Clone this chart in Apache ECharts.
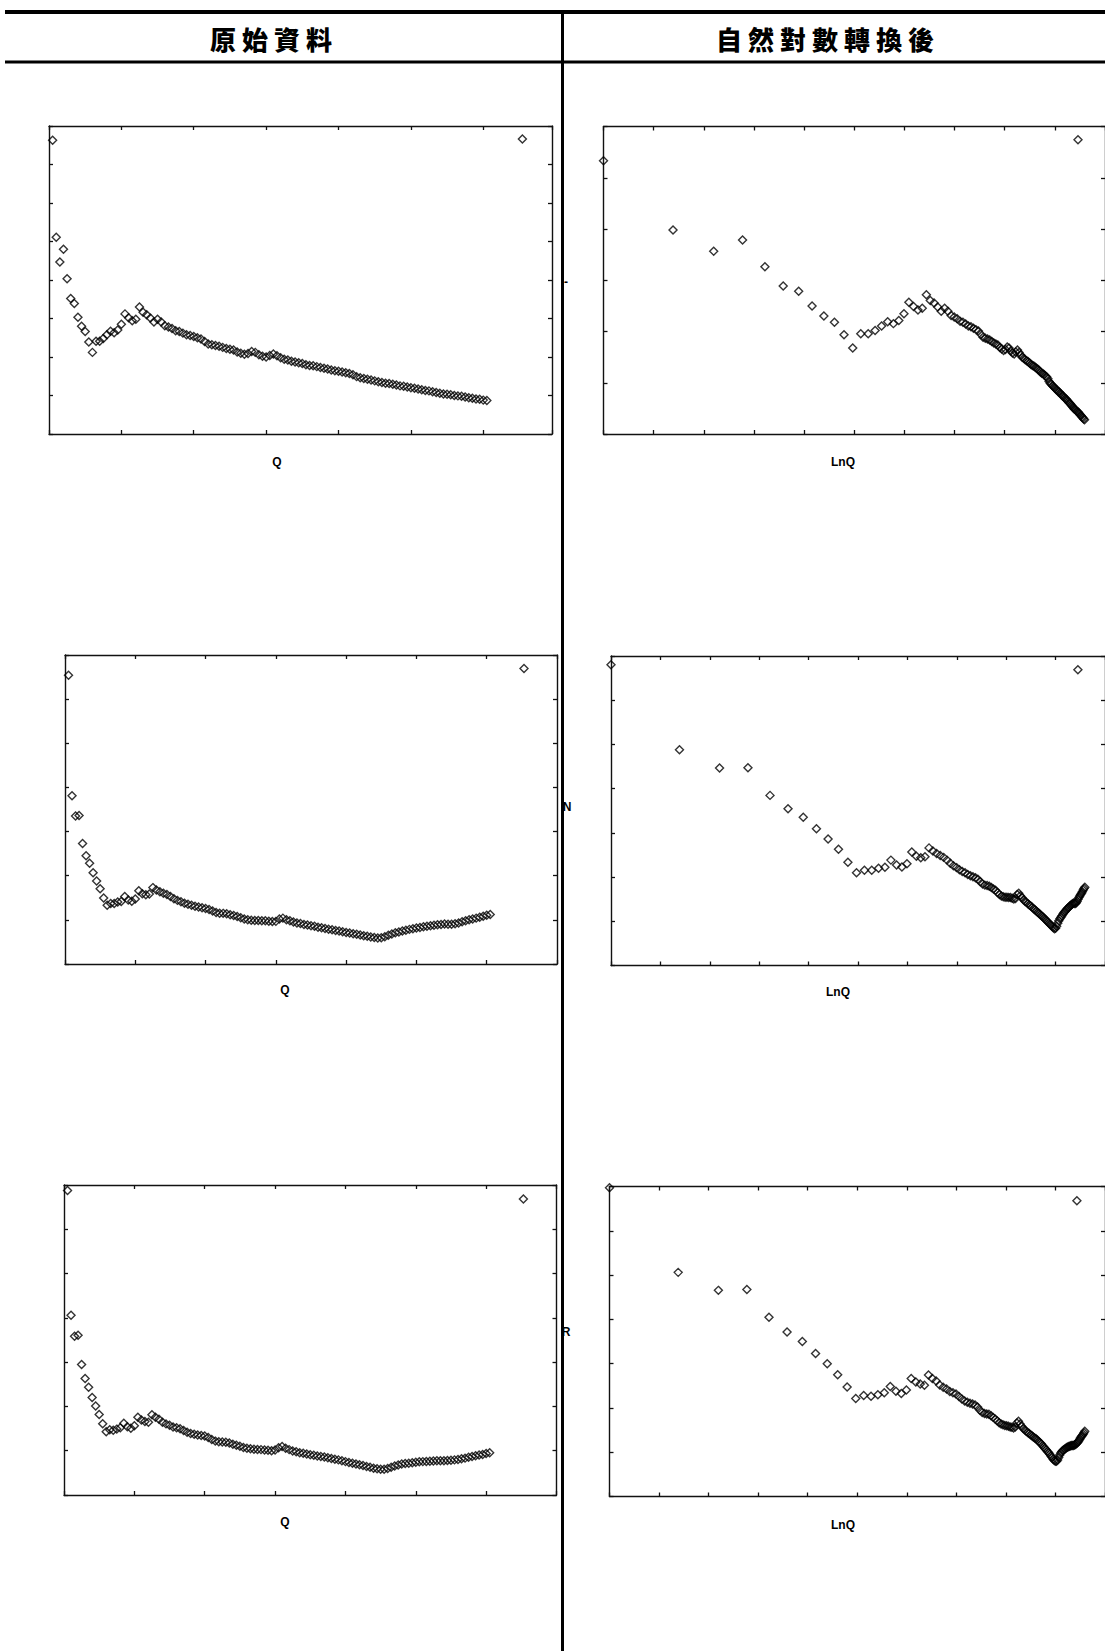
<!DOCTYPE html>
<html>
<head>
<meta charset="utf-8">
<title>原始資料 / 自然對數轉換後</title>
<script src="https://cdn.jsdelivr.net/npm/echarts@6/dist/echarts.min.js"></script>
<style>
html,body{margin:0;padding:0;background:#fff;}
#page{position:relative;width:1105px;height:1651px;overflow:hidden;}
#chart{position:absolute;left:0;top:0;width:1105px;height:1651px;}
.hd{position:absolute;top:22px;height:34px;line-height:34px;font-family:"Noto Sans CJK TC","Noto Sans CJK SC",sans-serif;font-weight:900;font-size:26px;color:#000;white-space:nowrap;transform:translateX(-50%);}
</style>
</head>
<body>
<div id="page">
  <div id="chart"></div>
  <div class="hd" style="left:274px;letter-spacing:6px">原始資料</div>
  <div class="hd" style="left:828px;letter-spacing:6px">自然對數轉換後</div>
</div>
<script>
// ---- data ----
// Q : observation index on the horizontal axis (1 ... 121)
const Q = [1,2,3,4,5,6,7,8,9,10,11,12,13,14,15,16,17,18,19,20,
  21,22,23,24,25,26,27,28,29,30,31,32,33,34,35,36,37,38,39,40,
  41,42,43,44,45,46,47,48,49,50,51,52,53,54,55,56,57,58,59,60,
  61,62,63,64,65,66,67,68,69,70,71,72,73,74,75,76,77,78,79,80,
  81,82,83,84,85,86,87,88,89,90,91,92,93,94,95,96,97,98,99,100,
  101,102,103,104,105,106,107,108,109,110,111,112,113,114,115,116,117,118,119,120,121];

// first row variable (its axis name is cut off in the scan)
const yTop = [106.3,81.1,74.7,78.0,70.3,65.2,63.9,60.3,58.0,56.6,53.9,51.2,54.1,54.1,54.8,55.8,56.7,56.3,57.0,58.5,
  61.2,60.2,59.4,59.8,63.0,61.6,61.0,60.1,59.1,59.8,59.1,58.1,57.8,57.4,56.8,56.6,56.2,55.8,55.6,55.3,
  55.0,54.7,54.0,53.4,53.2,53.0,52.8,52.5,52.2,52.0,51.8,51.3,51.0,50.7,50.9,51.4,51.2,50.6,50.2,50.0,
  50.4,50.8,50.3,49.8,49.4,49.2,48.9,48.7,48.5,48.3,48.0,47.8,47.7,47.5,47.3,47.1,46.9,46.6,46.4,46.3,
  46.1,45.9,45.7,45.4,44.9,44.6,44.4,44.2,44.0,43.8,43.6,43.4,43.2,43.1,42.9,42.7,42.5,42.4,42.2,42.0,
  41.9,41.7,41.5,41.3,41.2,41.0,40.8,40.6,40.4,40.3,40.2,40.0,39.9,39.8,39.6,39.4,39.3,39.1,39.0,38.8,38.7];

// second row variable N
const yN = [174.2,118.6,109.2,109.4,96.5,90.8,87.4,83.0,79.2,75.6,71.3,68.0,68.8,68.8,69.4,69.7,72.0,70.4,69.8,70.8,
  74.7,73.3,72.8,73.1,76.1,75.0,74.2,73.5,72.9,72.0,71.0,70.2,69.6,68.9,68.4,68.0,67.5,67.1,66.8,66.5,
  66.0,65.3,64.6,64.3,64.2,64.0,63.6,63.2,62.8,62.2,61.6,61.2,61.0,60.9,60.9,60.8,60.8,60.6,60.4,60.5,
  61.6,62.0,61.3,60.8,60.2,59.8,59.5,59.1,58.8,58.5,58.2,57.8,57.5,57.2,56.9,56.6,56.3,56.0,55.7,55.4,
  55.1,54.8,54.5,54.2,53.9,53.6,53.3,53.0,52.8,52.9,53.4,54.1,54.7,55.2,55.6,56.0,56.4,56.8,57.1,57.4,
  57.7,58.0,58.2,58.5,58.7,58.9,59.1,59.3,59.2,59.2,59.4,59.8,60.3,60.8,61.2,61.6,62.0,62.4,62.9,63.3,63.7];

// third row variable R
const yR = [180.2,123.0,113.4,113.8,100.4,94.0,90.0,85.3,81.4,77.5,73.3,69.6,70.5,70.3,70.8,71.4,73.5,71.9,71.2,72.3,
  76.2,75.0,74.3,73.9,77.4,76.2,75.3,74.0,73.2,72.6,71.8,71.4,71.0,70.2,69.4,68.8,68.4,68.1,67.9,67.6,
  67.0,66.0,65.3,65.0,64.9,64.8,64.4,63.9,63.4,62.9,62.4,62.0,61.8,61.6,61.5,61.4,61.2,61.1,60.9,61.2,
  62.3,62.8,62.0,61.4,60.8,60.4,60.0,59.7,59.4,59.1,58.8,58.5,58.2,58.0,57.7,57.3,57.0,56.7,56.3,55.9,
  55.5,55.2,54.8,54.5,54.1,53.7,53.3,52.9,52.6,52.4,52.4,52.7,53.3,53.9,54.4,54.8,55.0,55.2,55.4,55.6,
  55.8,55.9,56.0,56.1,56.2,56.3,56.3,56.3,56.4,56.5,56.7,56.9,57.2,57.5,57.9,58.3,58.6,58.9,59.2,59.6,60.0];

// axis texts
const xNameRaw = 'Q';
const xNameLn = 'LnQ';
const yNames = ['-', 'N', 'R'];

// ---- layout ----
const grids = [
  {left:49,   top:126,   width:503,   height:308},   // row1 raw
  {left:603.5,top:126.5, width:507.5, height:307.5}, // row1 ln
  {left:65,   top:655,   width:492,   height:309},   // row2 raw
  {left:611,  top:656,   width:500,   height:309.5}, // row2 ln
  {left:64,   top:1185,  width:492.5, height:310},   // row3 raw
  {left:609.5,top:1186.5,width:500.5, height:310}    // row3 ln
];
// axis ranges (no tick labels are printed in the source)
const xRanges = [[0,139,20],[0,5,0.5],[0,140,20],[0,5,0.5],[0,140,20],[0,5,0.5]];
const yRanges = [[30,110,10],[3.6,4.8,0.2],[40.8,183.6,20.4],[3.8,5.2,0.2],[40.6,182.7,20.3],[3.8,5.2,0.2]];

const lineCol = '#111';
function ax(gi, r, pos){
  return {
    type:'value', gridIndex:gi, position:pos, min:r[0], max:r[1], interval:r[2],
    axisLine:{show:true, onZero:false, lineStyle:{color:lineCol, width:1.4}},
    axisTick:{show:true, inside:true, length:4, lineStyle:{color:lineCol, width:1.3}},
    axisLabel:{show:false}, splitLine:{show:false}, axisPointer:{show:false}
  };
}
const xAxis = [], yAxis = [];
grids.forEach((g, i) => {
  xAxis.push(ax(i, xRanges[i], 'bottom'));
  xAxis.push(ax(i, xRanges[i], 'top'));
  yAxis.push(ax(i, yRanges[i], 'left'));
  yAxis.push(ax(i, yRanges[i], 'right'));
});

const vars = [yTop, yN, yR];
const names = ['Y1 vs Q', 'LnY1 vs LnQ', 'N vs Q', 'LnN vs LnQ', 'R vs Q', 'LnR vs LnQ'];
const mark = {color:'rgba(0,0,0,0)', borderColor:'#000', borderWidth:1.4};
const series = [];
vars.forEach((v, k) => {
  const raw = Q.map((q, i) => [q, v[i]]);
  // right column: the same observations after the natural-log transform
  const ln = Q.map((q, i) => [Math.log(q), Math.log(v[i])]);
  [raw, ln].forEach((d, j) => {
    const gi = k * 2 + j;
    series.push({
      type:'scatter', name:names[gi], xAxisIndex:gi * 2, yAxisIndex:gi * 2,
      symbol:'diamond', symbolSize:[8, 8], clip:false, silent:true,
      itemStyle:mark,
      data:d
    });
  });
});

// legend symbol positions (centres) in each panel
const legPos = [[521.7,138.3],[1077.3,139],[523.3,667.7],[1077.2,669],[522.7,1198.3],[1076.2,1200]];
const legend = legPos.map((p, i) => ({
  data:[names[i]], left:p[0] - 4, top:p[1] - 4, padding:0, itemGap:0,
  itemWidth:8, itemHeight:8, icon:'diamond', selectedMode:false,
  formatter:() => '',
  itemStyle:mark,
  textStyle:{fontSize:1}
}));

const lblFont = 'bold 12px "Liberation Sans", Arial, sans-serif';
function txt(x, y, s){
  return {type:'text', x:x, y:y, silent:true,
    style:{text:s, font:lblFont, fill:'#000', align:'center', verticalAlign:'middle'}};
}
const graphic = [
  {type:'rect', shape:{x:5, y:10, width:1100, height:4}, style:{fill:'#000'}, silent:true},
  {type:'rect', shape:{x:5, y:60.5, width:1100, height:3}, style:{fill:'#000'}, silent:true},
  txt(277, 462, xNameRaw), txt(843, 462, xNameLn),
  txt(285, 990, xNameRaw), txt(838, 992, xNameLn),
  txt(285, 1522, xNameRaw), txt(843, 1525, xNameLn),
  txt(566, 282, yNames[0]), txt(567, 807, yNames[1]), txt(566, 1332, yNames[2]),
  {type:'rect', shape:{x:561, y:10, width:3, height:1641}, style:{fill:'#000'}, silent:true, z:100}
];

const chart = echarts.init(document.getElementById('chart'), null, {renderer:'svg', width:1105, height:1651});
chart.setOption({
  backgroundColor:'#fff',
  animation:false,
  grid:grids.map(g => Object.assign({containLabel:false, show:false}, g)),
  xAxis:xAxis, yAxis:yAxis,
  legend:legend,
  series:series,
  graphic:graphic
});
</script>
</body>
</html>
